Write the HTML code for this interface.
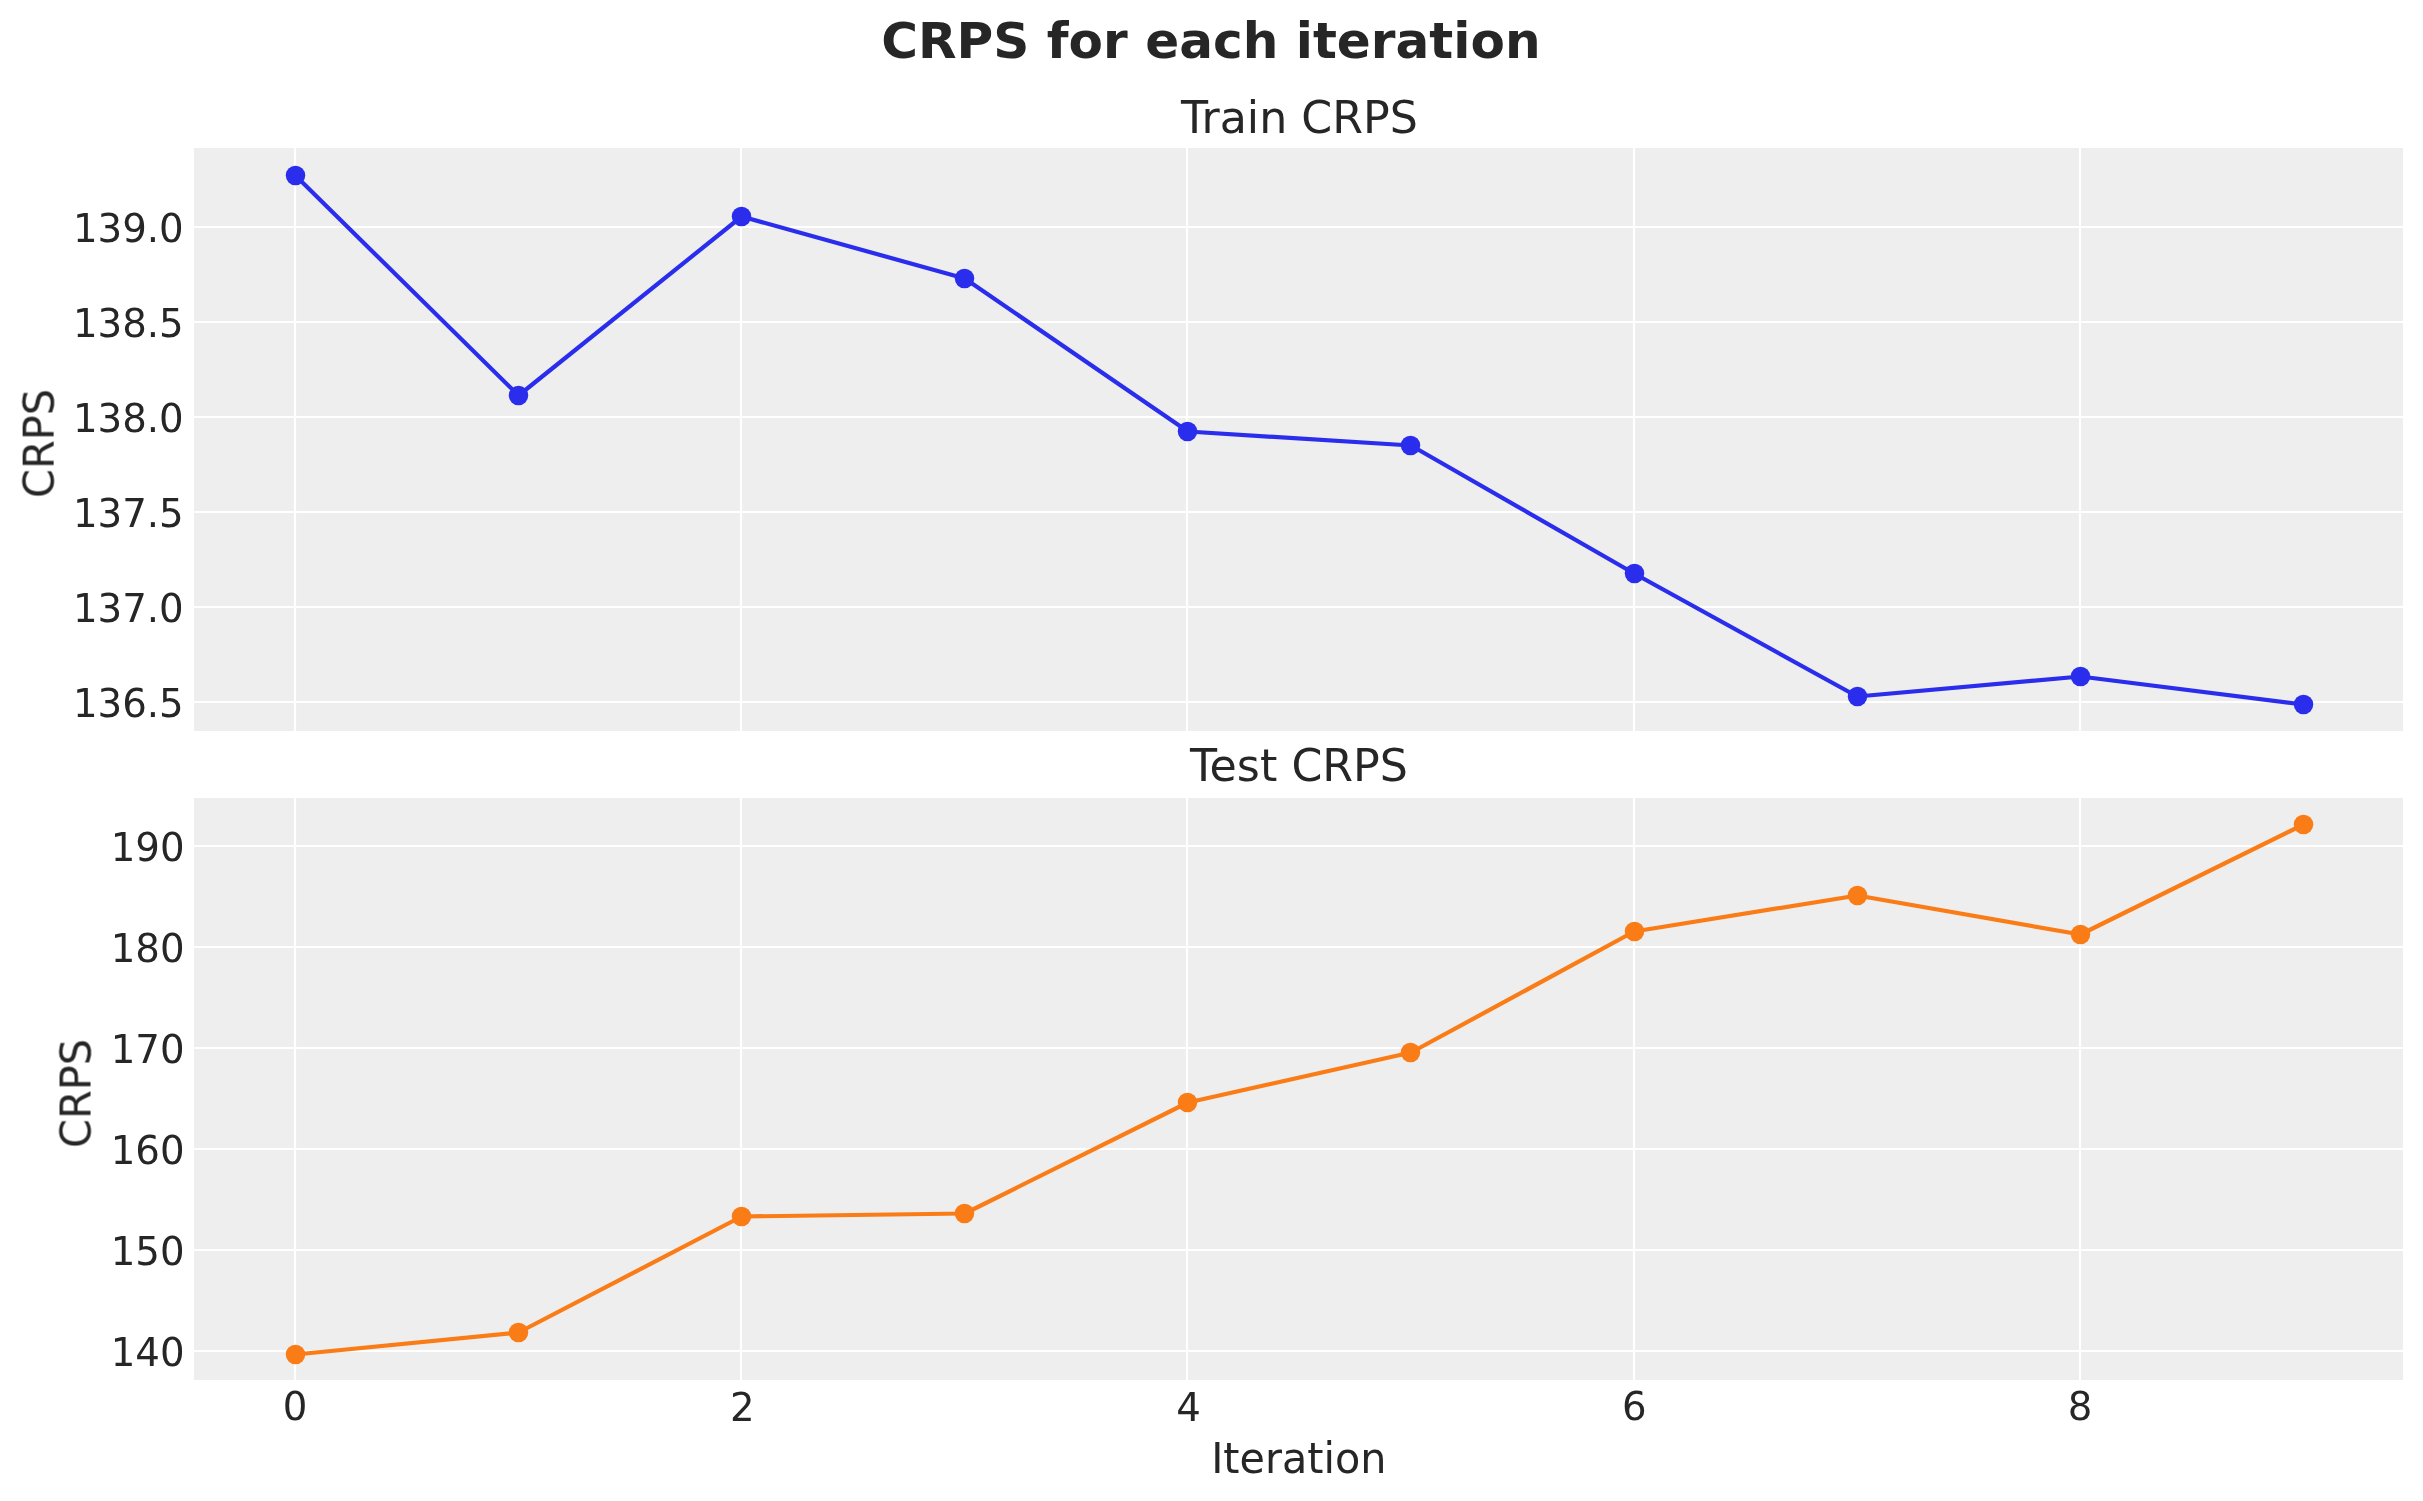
<!DOCTYPE html>
<html lang="en"><head><meta charset="utf-8"><title>CRPS for each iteration</title>
<style>html,body{margin:0;padding:0;background:#fff;}body{width:2423px;height:1501px;overflow:hidden;}svg{display:block;}.t{opacity:0.999;}text{font-family:"DejaVu Sans", "Liberation Sans", sans-serif;fill:#262626;}</style></head><body>
<svg width="2423" height="1501" viewBox="0 0 2423 1501">
<rect x="0" y="0" width="2423" height="1501" fill="#ffffff"/>
<rect x="194" y="148" width="2209" height="583" fill="#eeeeee"/>
<line x1="295" y1="148" x2="295" y2="731" stroke="#fff" stroke-width="2.2"/>
<line x1="741" y1="148" x2="741" y2="731" stroke="#fff" stroke-width="2.2"/>
<line x1="1187" y1="148" x2="1187" y2="731" stroke="#fff" stroke-width="2.2"/>
<line x1="1634" y1="148" x2="1634" y2="731" stroke="#fff" stroke-width="2.2"/>
<line x1="2080" y1="148" x2="2080" y2="731" stroke="#fff" stroke-width="2.2"/>
<line x1="194" y1="227" x2="2403" y2="227" stroke="#fff" stroke-width="2.2"/>
<line x1="194" y1="322" x2="2403" y2="322" stroke="#fff" stroke-width="2.2"/>
<line x1="194" y1="417" x2="2403" y2="417" stroke="#fff" stroke-width="2.2"/>
<line x1="194" y1="512" x2="2403" y2="512" stroke="#fff" stroke-width="2.2"/>
<line x1="194" y1="607" x2="2403" y2="607" stroke="#fff" stroke-width="2.2"/>
<line x1="194" y1="702" x2="2403" y2="702" stroke="#fff" stroke-width="2.2"/>
<polyline points="295.40,175.50 518.53,395.50 741.66,216.50 964.79,278.50 1187.92,431.50 1411.05,445.50 1634.18,573.50 1857.31,696.50 2080.44,676.50 2303.57,704.50" fill="none" stroke="#2a2eec" stroke-width="4.2" stroke-linejoin="round" stroke-linecap="butt"/>
<circle cx="295.5" cy="175.5" r="9.75" fill="#2a2eec"/>
<circle cx="518.5" cy="395.5" r="9.75" fill="#2a2eec"/>
<circle cx="741.5" cy="216.5" r="9.75" fill="#2a2eec"/>
<circle cx="964.5" cy="278.5" r="9.75" fill="#2a2eec"/>
<circle cx="1187.5" cy="431.5" r="9.75" fill="#2a2eec"/>
<circle cx="1410.5" cy="445.5" r="9.75" fill="#2a2eec"/>
<circle cx="1634.5" cy="573.5" r="9.75" fill="#2a2eec"/>
<circle cx="1857.5" cy="696.5" r="9.75" fill="#2a2eec"/>
<circle cx="2080.5" cy="676.5" r="9.75" fill="#2a2eec"/>
<circle cx="2303.5" cy="704.5" r="9.75" fill="#2a2eec"/>
<rect x="194" y="798" width="2209" height="582" fill="#eeeeee"/>
<line x1="295" y1="798" x2="295" y2="1380" stroke="#fff" stroke-width="2.2"/>
<line x1="741" y1="798" x2="741" y2="1380" stroke="#fff" stroke-width="2.2"/>
<line x1="1187" y1="798" x2="1187" y2="1380" stroke="#fff" stroke-width="2.2"/>
<line x1="1634" y1="798" x2="1634" y2="1380" stroke="#fff" stroke-width="2.2"/>
<line x1="2080" y1="798" x2="2080" y2="1380" stroke="#fff" stroke-width="2.2"/>
<line x1="194" y1="846" x2="2403" y2="846" stroke="#fff" stroke-width="2.2"/>
<line x1="194" y1="947" x2="2403" y2="947" stroke="#fff" stroke-width="2.2"/>
<line x1="194" y1="1048" x2="2403" y2="1048" stroke="#fff" stroke-width="2.2"/>
<line x1="194" y1="1149" x2="2403" y2="1149" stroke="#fff" stroke-width="2.2"/>
<line x1="194" y1="1250" x2="2403" y2="1250" stroke="#fff" stroke-width="2.2"/>
<line x1="194" y1="1351" x2="2403" y2="1351" stroke="#fff" stroke-width="2.2"/>
<polyline points="295.40,1354.50 518.53,1332.50 741.66,1216.50 964.79,1213.50 1187.92,1102.50 1411.05,1052.50 1634.18,931.50 1857.31,895.50 2080.44,934.50 2303.57,824.50" fill="none" stroke="#fa7c17" stroke-width="4.2" stroke-linejoin="round" stroke-linecap="butt"/>
<circle cx="295.5" cy="1354.5" r="9.75" fill="#fa7c17"/>
<circle cx="518.5" cy="1332.5" r="9.75" fill="#fa7c17"/>
<circle cx="741.5" cy="1216.5" r="9.75" fill="#fa7c17"/>
<circle cx="964.5" cy="1213.5" r="9.75" fill="#fa7c17"/>
<circle cx="1187.5" cy="1102.5" r="9.75" fill="#fa7c17"/>
<circle cx="1410.5" cy="1052.5" r="9.75" fill="#fa7c17"/>
<circle cx="1634.5" cy="931.5" r="9.75" fill="#fa7c17"/>
<circle cx="1857.5" cy="895.5" r="9.75" fill="#fa7c17"/>
<circle cx="2080.5" cy="934.5" r="9.75" fill="#fa7c17"/>
<circle cx="2303.5" cy="824.5" r="9.75" fill="#fa7c17"/>
<g class="t">
<text transform="translate(183.7,242.1) scale(1,1.012)" font-size="38.7" text-anchor="end">139.0</text>
<text transform="translate(183.7,337.1) scale(1,1.012)" font-size="38.7" text-anchor="end">138.5</text>
<text transform="translate(183.7,432.1) scale(1,1.012)" font-size="38.7" text-anchor="end">138.0</text>
<text transform="translate(183.7,527.1) scale(1,1.012)" font-size="38.7" text-anchor="end">137.5</text>
<text transform="translate(183.7,622.1) scale(1,1.012)" font-size="38.7" text-anchor="end">137.0</text>
<text transform="translate(183.7,717.1) scale(1,1.012)" font-size="38.7" text-anchor="end">136.5</text>
<text transform="translate(184.6,861.4) scale(1,1.012)" font-size="38.7" text-anchor="end">190</text>
<text transform="translate(184.6,962.4) scale(1,1.012)" font-size="38.7" text-anchor="end">180</text>
<text transform="translate(184.6,1063.4) scale(1,1.012)" font-size="38.7" text-anchor="end">170</text>
<text transform="translate(184.6,1164.4) scale(1,1.012)" font-size="38.7" text-anchor="end">160</text>
<text transform="translate(184.6,1265.4) scale(1,1.012)" font-size="38.7" text-anchor="end">150</text>
<text transform="translate(184.6,1366.4) scale(1,1.012)" font-size="38.7" text-anchor="end">140</text>
<text transform="translate(295.1,1420.15) scale(1,1.012)" font-size="38.7" text-anchor="middle">0</text>
<text transform="translate(742.3,1420.9) scale(1,1.012)" font-size="38.7" text-anchor="middle">2</text>
<text transform="translate(1188.45,1421.1) scale(1,1.012)" font-size="38.7" text-anchor="middle">4</text>
<text transform="translate(1634.3,1420.2) scale(1,1.012)" font-size="38.7" text-anchor="middle">6</text>
<text transform="translate(2080.05,1420.2) scale(1,1.012)" font-size="38.7" text-anchor="middle">8</text>
<text transform="translate(1298.8,1473) scale(0.992,1.033)" font-size="41.67" text-anchor="middle">Iteration</text>
<text transform="translate(53.8,443.5) rotate(-90) scale(1,1.03)" font-size="41.5" text-anchor="middle">CRPS</text>
<text transform="translate(90.7,1093.5) rotate(-90) scale(1,1.03)" font-size="41.5" text-anchor="middle">CRPS</text>
<text transform="translate(1299.4,132.9)" font-size="44.3" text-anchor="middle">Train CRPS</text>
<text transform="translate(1299,780.9)" font-size="44.3" text-anchor="middle">Test CRPS</text>
<text transform="translate(1210.9,57.7)" font-size="50.1" text-anchor="middle" font-weight="bold">CRPS for each iteration</text>
</g>
</svg></body></html>
